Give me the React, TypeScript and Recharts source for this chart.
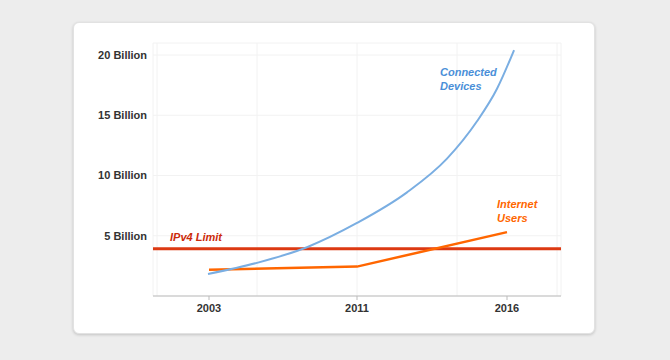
import { LineChart, Line, XAxis, YAxis, CartesianGrid, ReferenceLine, ReferenceDot } from 'recharts'

// x positions are on an even spacing where 2011 sits at 0 (the picture's year ticks are not linear)
const yearTicks = [-1.48, 0, 1.5]
const yearLabels: Record<string, string> = { '-1.48': '2003', '0': '2011', '1.5': '2016' }
const gridTicks = [-2, -1, 0, 1, 2]
const yTicks = [5, 10, 15, 20]

const devicesX = [-1.49, -1.0, -0.5, 0, 0.5, 0.9, 1.2, 1.4, 1.57]
const devicesY = [1.83, 2.75, 4.05, 6.06, 8.6, 11.4, 14.5, 17.2, 20.4]

const usersX = [-1.48, 0, 1.5]
const usersY = [2.17, 2.44, 5.3]

const ipv4Limit = 3.92

const devices = devicesX.map((x, i) => ({ x, v: devicesY[i] }))
const users = usersX.map((x, i) => ({ x, v: usersY[i] }))

const labelFont = { fontFamily: 'Liberation Sans, Arial, sans-serif', fontSize: 11, fontWeight: 700, fontStyle: 'italic' as const }

function TwoLine({ viewBox, lines, color }: any) {
  const { x, y } = viewBox
  return (
    <text x={x} y={y} fill={color} style={labelFont}>
      {lines.map((l: string, i: number) => (
        <tspan key={i} x={x} dy={i === 0 ? 0 : 14}>{l}</tspan>
      ))}
    </text>
  )
}

export default function App() {
  const tickStyle = { fontFamily: 'Liberation Sans, Arial, sans-serif', fontSize: 11, fontWeight: 700, fill: '#333' }
  return (
    <div style={{ position: 'fixed', left: 0, top: 0, width: 670, height: 360, background: '#ededed' }}>
      <div style={{
        position: 'absolute', left: 73, top: 22, width: 522, height: 312, background: '#fff',
        borderRadius: 6, boxShadow: '0 1px 3px rgba(0,0,0,0.18)', border: '1px solid #e2e2e2', boxSizing: 'border-box'
      }}>
        <LineChart width={522} height={312} margin={{ top: 21, right: 34, bottom: 8, left: 0 }} style={{ position: 'absolute', left: -1, top: -1 }}>
          <CartesianGrid xAxisId="grid" stroke="#f2f2f2" />
          <XAxis xAxisId="grid" type="number" dataKey="x" domain={[-2.04, 2.04]} ticks={gridTicks} hide allowDataOverflow />
          <XAxis
            type="number" dataKey="x" domain={[-2.04, 2.04]} ticks={yearTicks} allowDataOverflow height={30}
            tickFormatter={(v: number) => yearLabels[String(v)]}
            tick={tickStyle} axisLine={{ stroke: '#bbb' }} tickLine={{ stroke: '#bbb' }} tickSize={4} tickMargin={4}
          />
          <YAxis
            type="number" domain={[0, 21]} ticks={yTicks} width={80} allowDataOverflow
            tickFormatter={(v: number) => `${v} Billion`}
            tick={tickStyle} axisLine={false} tickLine={false} tickSize={0} tickMargin={6}
          />
          <ReferenceLine y={ipv4Limit} stroke="#dc3912" strokeWidth={3} />
          <Line data={users} dataKey="v" type="linear" stroke="#ff6600" strokeWidth={2.5} dot={false} isAnimationActive={false} />
          <Line data={devices} dataKey="v" type="monotone" stroke="#7aaee2" strokeWidth={2} dot={false} isAnimationActive={false} />
          <ReferenceDot x={-1.87} y={4.6} r={0} fill="none" stroke="none" ifOverflow="visible"
            label={(p: any) => <TwoLine {...p} lines={['IPv4 Limit']} color="#cc2a0a" />} />
          <ReferenceDot x={0.83} y={18.3} r={0} fill="none" stroke="none" ifOverflow="visible"
            label={(p: any) => <TwoLine {...p} lines={['Connected', 'Devices']} color="#4a8fd8" />} />
          <ReferenceDot x={1.4} y={7.3} r={0} fill="none" stroke="none" ifOverflow="visible"
            label={(p: any) => <TwoLine {...p} lines={['Internet', 'Users']} color="#ff6600" />} />
        </LineChart>
      </div>
    </div>
  )
}
